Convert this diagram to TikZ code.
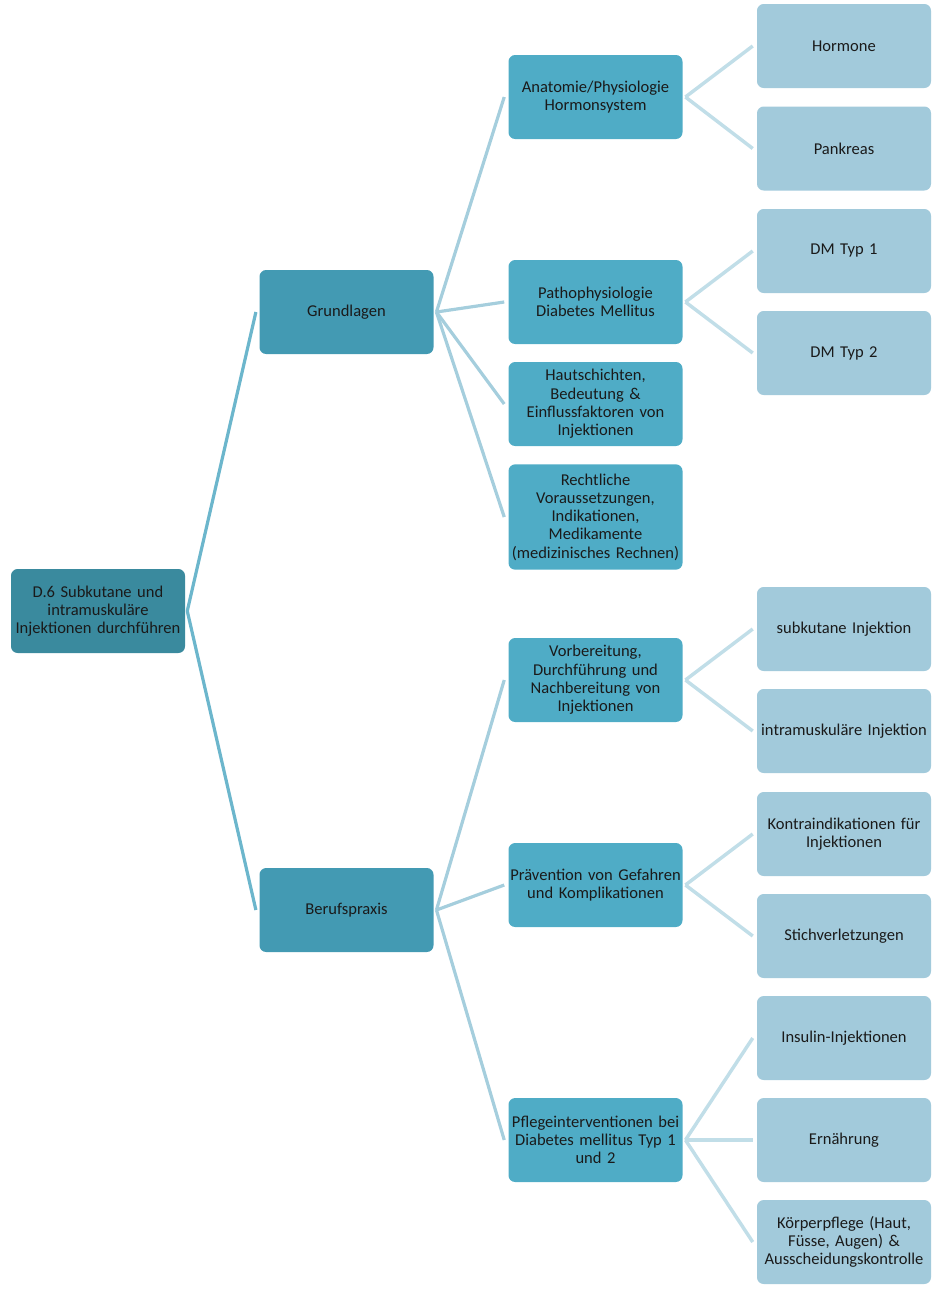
\documentclass[tikz,border=0pt]{standalone}
\usepackage{fontspec}
\setmainfont{Carlito}
\definecolor{rootc}{HTML}{3A8A9E}
\definecolor{lonec}{HTML}{439AB3}
\definecolor{ltwoc}{HTML}{4FACC6}
\definecolor{lthreec}{HTML}{A2CADB}
\definecolor{linkA}{HTML}{6CB6CC}
\definecolor{linkB}{HTML}{A5CEDD}
\definecolor{linkC}{HTML}{C1DEE8}
\definecolor{txt}{HTML}{1A1A1A}
\begin{document}
\begin{tikzpicture}[x=0.75pt,y=-0.75pt,
  box/.style={rectangle, rounded corners=5pt, minimum width=130.5pt, minimum height=63pt,
    text width=130pt, inner xsep=0pt, inner ysep=0pt, align=center, text=txt,
    font=\fontsize{12.4pt}{13.7pt}\selectfont},
  rootbox/.style={box, fill=rootc},
  onebox/.style={box, fill=lonec},
  twobox/.style={box, fill=ltwoc},
  threebox/.style={box, fill=lthreec},
  linka/.style={draw=linkA, line width=2.4pt},
  linkb/.style={draw=linkB, line width=2.4pt},
  linkc/.style={draw=linkC, line width=2.6pt}
]
\useasboundingbox (0,0) rectangle (942,1289);
% root
\node[rootbox] (root) at (98,611) {D.6 Subkutane und\\intramuskuläre\\Injektionen durchführen};
% level 1
\node[onebox] (g) at (346.5,312) {Grundlagen};
\node[onebox] (b) at (346.5,910) {Berufspraxis};
% level 2
\node[twobox] (ana) at (595.5,97) {Anatomie/Physiologie\\Hormonsystem};
\node[twobox] (pat) at (595.5,302) {Pathophysiologie\\Diabetes Mellitus};
\node[twobox] (hau) at (595.5,404) {Hautschichten,\\Bedeutung \&\\Einflussfaktoren von\\Injektionen};
\node[twobox, minimum height=79pt] (rec) at (595.5,517) {Rechtliche\\Voraussetzungen,\\Indikationen,\\Medikamente\\(medizinisches Rechnen)};
\node[twobox] (vor) at (595.5,680) {Vorbereitung,\\Durchführung und\\Nachbereitung von\\Injektionen};
\node[twobox] (pra) at (595.5,885) {Prävention von Gefahren\\und Komplikationen};
\node[twobox] (pfl) at (595.5,1140) {Pflegeinterventionen bei\\Diabetes mellitus Typ 1\\und 2};
% level 3
\node[threebox] (hor) at (844,46) {Hormone};
\node[threebox] (pan) at (844,148.5) {Pankreas};
\node[threebox] (dma) at (844,251) {DM Typ 1};
\node[threebox] (dmb) at (844,353) {DM Typ 2};
\node[threebox] (sub) at (844,629) {subkutane Injektion};
\node[threebox] (int) at (844,731) {intramuskuläre Injektion};
\node[threebox] (kon) at (844,834) {Kontraindikationen für\\Injektionen};
\node[threebox] (sti) at (844,936) {Stichverletzungen};
\node[threebox] (ins) at (844,1038) {Insulin-Injektionen};
\node[threebox] (ern) at (844,1140) {Ernährung};
\node[threebox] (koe) at (844,1242) {Körperpflege (Haut,\\Füsse, Augen) \&\\Ausscheidungskontrolle};
% connectors root -> level 1
\foreach \c in {g,b}
  \draw[linka] ([xshift=1.5pt]root.east) -- ([xshift=-2.5pt]\c.west);
% level 1 -> level 2
\foreach \c in {ana,pat,hau,rec}
  \draw[linkb] ([xshift=2pt]g.east) -- ([xshift=-3pt]\c.west);
\foreach \c in {vor,pra,pfl}
  \draw[linkb] ([xshift=2pt]b.east) -- ([xshift=-3pt]\c.west);
% level 2 -> level 3
\foreach \p/\c in {ana/hor,ana/pan,pat/dma,pat/dmb,vor/sub,vor/int,pra/kon,pra/sti,pfl/ins,pfl/ern,pfl/koe}
  \draw[linkc] ([xshift=2pt]\p.east) -- ([xshift=-3pt]\c.west);
\end{tikzpicture}
\end{document}
